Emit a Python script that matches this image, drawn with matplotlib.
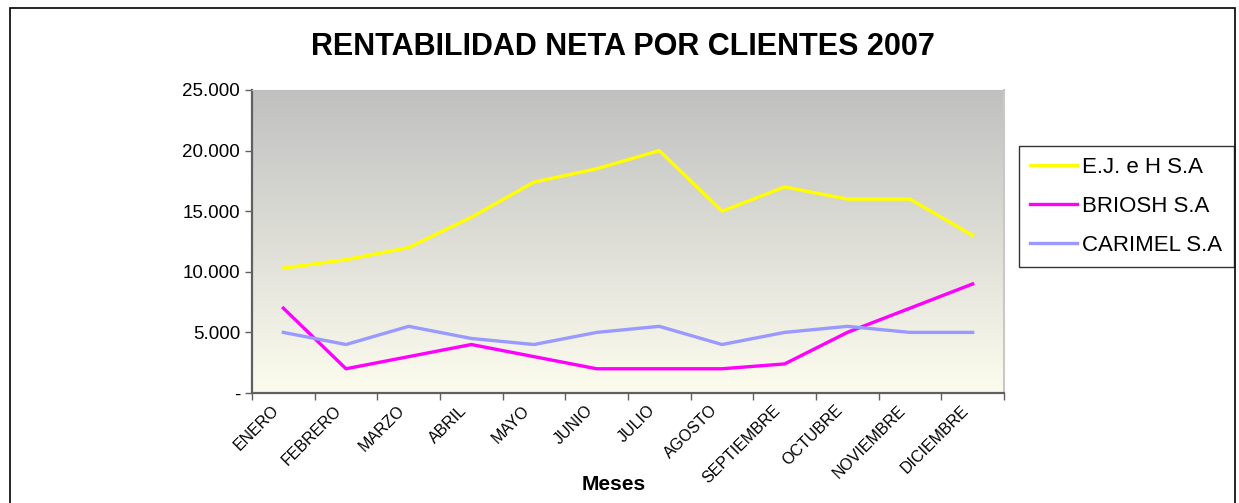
import numpy as np
import matplotlib.pyplot as plt
from matplotlib.patches import Rectangle
from matplotlib.ticker import FuncFormatter
from matplotlib.transforms import ScaledTranslation

plt.rcParams['font.family'] = ['Liberation Sans', 'DejaVu Sans']

meses = ['ENERO', 'FEBRERO', 'MARZO', 'ABRIL', 'MAYO', 'JUNIO', 'JULIO',
         'AGOSTO', 'SEPTIEMBRE', 'OCTUBRE', 'NOVIEMBRE', 'DICIEMBRE']
ejeh = [10300, 11000, 12000, 14500, 17400, 18500, 20000, 15000, 17000, 16000, 16000, 13000]
briosh = [7000, 2000, 3000, 4000, 3000, 2000, 2000, 2000, 2400, 5000, 7000, 9000]
carimel = [5000, 4000, 5500, 4500, 4000, 5000, 5500, 4000, 5000, 5500, 5000, 5000]

fig = plt.figure(figsize=(12.39, 5.03), dpi=100)
# marco exterior del grafico
fig.patches.append(Rectangle((10 / 1239, -0.05), 1225 / 1239, 1.05 - 8 / 503,
                             transform=fig.transFigure, fill=False,
                             edgecolor='black', linewidth=1.2))

ax = fig.add_axes([252 / 1239, 1 - 393 / 503, 752 / 1239, 303 / 503])

# fondo degradado gris -> marfil
grad = np.linspace(0, 1, 256).reshape(-1, 1)
top = np.array([192, 192, 192]) / 255
bot = np.array([252, 252, 238]) / 255
img = top + (bot - top) * grad[:, :, None]
ax.imshow(img, extent=[-0.5, 11.5, 0, 25000], aspect='auto', origin='upper', zorder=0)

x = np.arange(len(meses))
ax.plot(x, ejeh, color='#FFFF00', lw=2.4, label='E.J. e H S.A', zorder=3)
ax.plot(x, briosh, color='#FF00FF', lw=2.4, label='BRIOSH S.A', zorder=3)
ax.plot(x, carimel, color='#9999FF', lw=2.4, label='CARIMEL S.A', zorder=3)

ax.set_xlim(-0.5, 11.5)
ax.set_ylim(0, 25000)
ax.set_yticks(range(0, 25001, 5000))
ax.yaxis.set_major_formatter(FuncFormatter(
    lambda v, p: '-' if v == 0 else '{:,.0f}'.format(v).replace(',', '.')))
ax.set_xticks(x)
ax.set_xticklabels(meses, rotation=45, ha='right', rotation_mode='anchor', fontsize=11.5)
ax.set_xticks(np.arange(-0.5, 12, 1), minor=True)
ax.tick_params(axis='x', which='major', length=0, pad=7)
ax.tick_params(axis='x', which='minor', length=5, width=1, color='#606060')
ax.tick_params(axis='y', length=5, width=1, color='#606060', labelsize=13.5)
# etiquetas un poco a la izquierda, como en el original
shift = ScaledTranslation(-12 / 100, 0, fig.dpi_scale_trans)
for lab in ax.get_xticklabels():
    lab.set_transform(lab.get_transform() + shift)

for s in ['left', 'bottom']:
    ax.spines[s].set_color('#606060')
    ax.spines[s].set_linewidth(1.6)
ax.spines['top'].set_color('#C0C0C0')
ax.spines['right'].set_color('#C8C8C8')
ax.spines['right'].set_linewidth(1.5)

fig.text(614 / 1239, 1 - 485 / 503, 'Meses', ha='center', va='center',
         fontsize=15, fontweight='bold')
fig.text(623 / 1239, 1 - 47 / 503, 'RENTABILIDAD NETA POR CLIENTES 2007',
         ha='center', va='center', fontsize=22, fontweight='bold')

leg = fig.legend(loc='upper left', bbox_to_anchor=(1019 / 1239, 1 - 146 / 503),
                 fontsize=16, frameon=True, fancybox=False, edgecolor='black',
                 handlelength=2.1, handletextpad=0.25, borderpad=0.5,
                 labelspacing=0.8, borderaxespad=0)
leg.get_frame().set_linewidth(1.0)

fig.savefig('out.png', dpi=100)
